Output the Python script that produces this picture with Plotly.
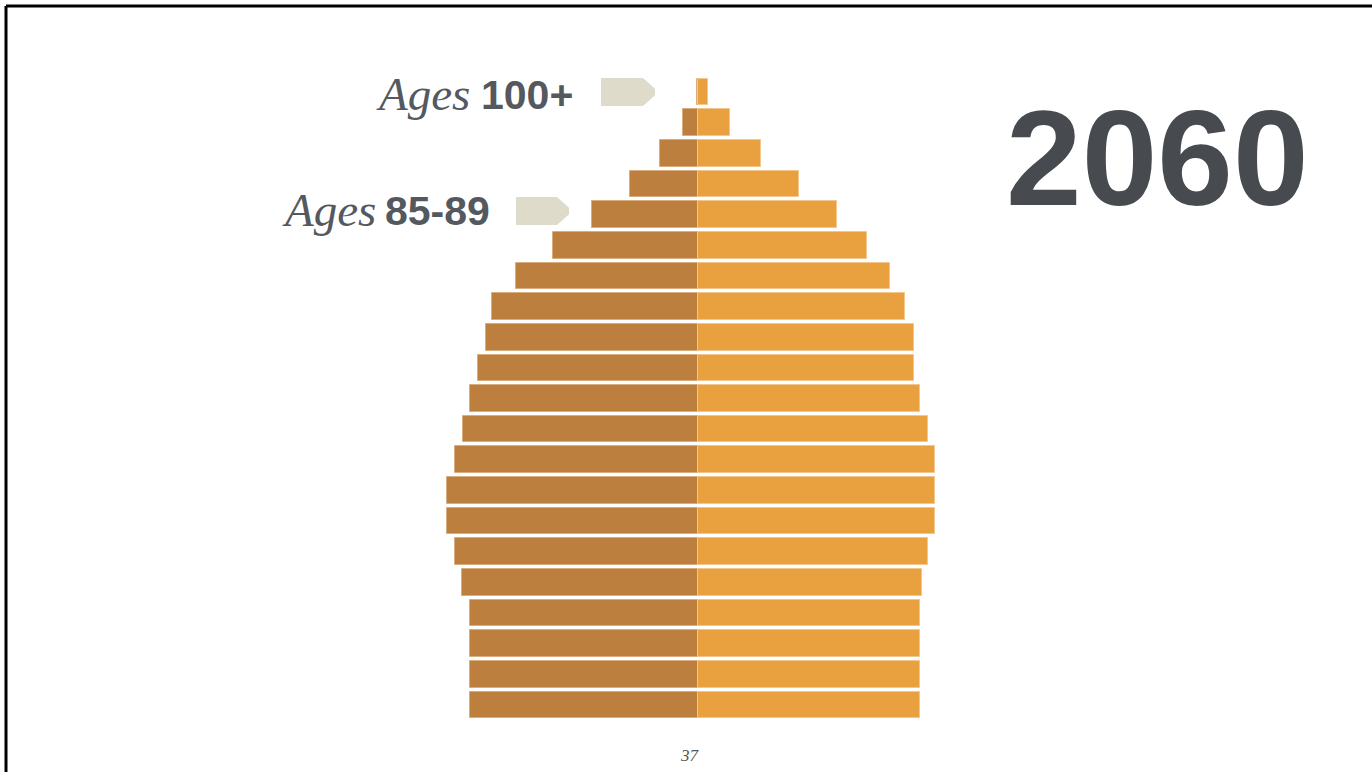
import plotly.graph_objects as go

# Age groups, bottom to top
age_groups = ["0-4", "5-9", "10-14", "15-19", "20-24", "25-29", "30-34", "35-39",
              "40-44", "45-49", "50-54", "55-59", "60-64", "65-69", "70-74",
              "75-79", "80-84", "85-89", "90-94", "95-99", "100+"]
# Population (millions), 2060 projection
male = [11.4, 11.4, 11.4, 11.4, 11.8, 12.15, 12.55, 12.55, 12.15, 11.75,
        11.4, 11.0, 10.6, 10.3, 9.1, 7.25, 5.3, 3.4, 1.9, 0.77, 0.03]
female = [11.1, 11.1, 11.1, 11.1, 11.2, 11.5, 11.85, 11.85, 11.85, 11.5,
          11.1, 10.8, 10.8, 10.35, 9.6, 8.45, 6.95, 5.05, 3.15, 1.6, 0.5]
year_label = "2060"
page_number = "37"

W, H = 1372, 772
CX = 698.0          # pixel x of the zero line
SCALE = 20.0        # pixels per million
ROW0_Y = 705.0      # pixel y of the 0-4 row centre
PITCH = 30.65       # pixels per row

ypos = list(range(len(age_groups)))

def px(x, y):
    return x / W, 1 - y / H

fig = go.Figure()
fig.add_trace(go.Bar(
    y=ypos, x=[-v for v in male], orientation="h", name="Male",
    marker=dict(color="#BC7F3D", line=dict(color="#D8AE80", width=1)),
    width=0.87, customdata=age_groups, hoverinfo="skip"))
fig.add_trace(go.Bar(
    y=ypos, x=female, orientation="h", name="Female",
    marker=dict(color="#E9A03E", line=dict(color="#F2C68C", width=1)),
    width=0.87, customdata=age_groups, hoverinfo="skip"))

fig.update_layout(
    width=W, height=H, barmode="relative", bargap=0,
    margin=dict(l=0, r=0, t=0, b=0),
    paper_bgcolor="white", plot_bgcolor="white", showlegend=False,
    xaxis=dict(range=[-CX / SCALE, (W - CX) / SCALE], visible=False, fixedrange=True),
    yaxis=dict(range=[(ROW0_Y - H) / PITCH, ROW0_Y / PITCH], visible=False, fixedrange=True),
)

# Frame (top and left edges visible)
fig.add_shape(type="line", xref="paper", yref="paper", x0=px(6, 0)[0], x1=1.01,
              y0=px(0, 6)[1], y1=px(0, 6)[1], line=dict(color="black", width=3))
fig.add_shape(type="line", xref="paper", yref="paper", x0=px(6, 0)[0], x1=px(6, 0)[0],
              y0=-0.01, y1=px(0, 6)[1], line=dict(color="black", width=3))

# Tag shapes
def tag(x0, x1, xt, y0, y1):
    pts = [(x0, y0), (x1, y0), (xt, y0 + (y1 - y0) * 0.38), (xt, y0 + (y1 - y0) * 0.62),
           (x1, y1), (x0, y1)]
    p = [px(a, b) for a, b in pts]
    return "M " + " L ".join(f"{a:.5f},{b:.5f}" for a, b in p) + " Z"

fig.add_shape(type="path", xref="paper", yref="paper", path=tag(601, 643, 655, 78, 106),
              fillcolor="#DEDBCB", line=dict(width=0))
fig.add_shape(type="path", xref="paper", yref="paper", path=tag(516, 557, 569, 197, 225),
              fillcolor="#DEDBCB", line=dict(width=0))

GRAY = "#54595F"
def label(ages_right, num_left, yc, num):
    fig.add_annotation(xref="paper", yref="paper", x=px(ages_right, 0)[0], y=px(0, yc - 1)[1],
                       text="<i>Ages</i>", showarrow=False, xanchor="right", yanchor="middle",
                       font=dict(family="Liberation Serif", size=47, color=GRAY))
    fig.add_annotation(xref="paper", yref="paper", x=px(num_left, 0)[0], y=px(0, yc)[1],
                       text=f"<b>{num}</b>", showarrow=False, xanchor="left", yanchor="middle",
                       font=dict(family="Liberation Sans", size=41, color=GRAY))

label(472, 479, 95, age_groups[-1])
label(378, 383, 211, age_groups[-4])

fig.add_annotation(xref="paper", yref="paper", x=px(1157, 0)[0], y=px(0, 158)[1],
                   text=f"<b>{year_label}</b>", showarrow=False, xanchor="center", yanchor="middle",
                   font=dict(family="Liberation Sans", size=136, color="#474B50"))
fig.add_annotation(xref="paper", yref="paper", x=px(690, 0)[0], y=px(0, 755)[1],
                   text=f"<i>{page_number}</i>", showarrow=False, xanchor="center", yanchor="middle",
                   font=dict(family="Liberation Serif", size=17, color="#555555"))

fig.write_html("out.html", config={"displayModeBar": False},
               post_script="document.body.style.margin='0';document.body.style.overflow='hidden';")
